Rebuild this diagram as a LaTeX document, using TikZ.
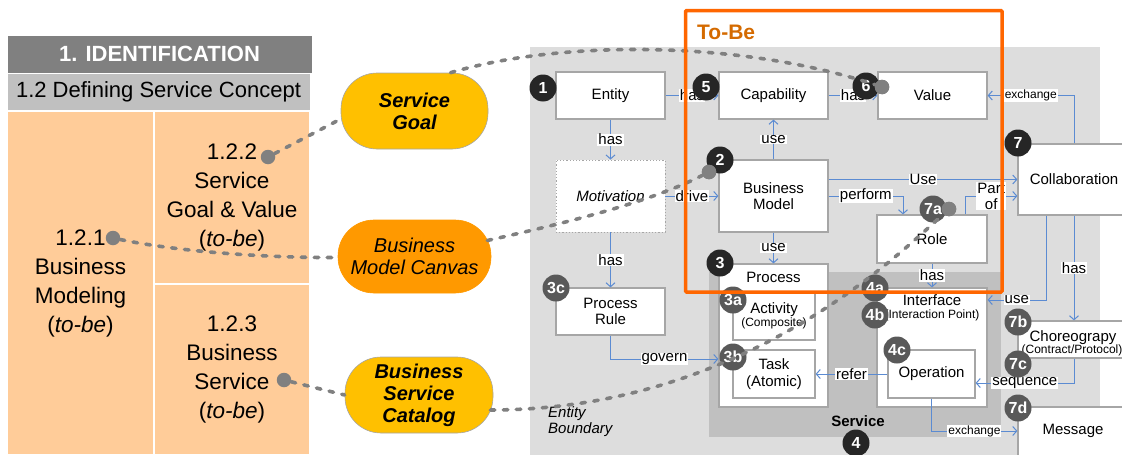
\documentclass[tikz,border=0pt]{standalone}
\usepackage{fontspec}
\setmainfont{Liberation Sans}
\usetikzlibrary{arrows.meta}

\definecolor{hdrgray}{HTML}{808080}
\definecolor{subgray}{HTML}{C0C0C0}
\definecolor{peach}{HTML}{FFCC99}
\definecolor{bggray}{HTML}{DDDDDD}
\definecolor{svcgray}{HTML}{C0C0C0}
\definecolor{boxline}{HTML}{A6A6A6}
\definecolor{linkblue}{HTML}{5B8BD2}
\definecolor{dashgray}{HTML}{808080}
\definecolor{badgedark}{HTML}{262626}
\definecolor{badgemid}{HTML}{595959}
\definecolor{goalyellow}{HTML}{FFC000}
\definecolor{canvasorange}{HTML}{FF9900}
\definecolor{tobeorange}{HTML}{FF6600}
\definecolor{tobetext}{HTML}{D46A00}

\newcommand{\fsize}[2]{\fontsize{#1}{#2}\selectfont}

\begin{document}
\begin{tikzpicture}[x=1pt, y=-1pt,
    cell/.style={fill=peach, draw=white, line width=1.5pt, align=center, inner sep=0pt, font=\fsize{22.5}{29}},
    goal/.style={rectangle, rounded corners=36pt, draw=gray!70, line width=0.6pt, inner sep=0pt, align=center},
    box/.style={draw=boxline, line width=1.2pt, fill=white, inner sep=0pt, align=center, font=\fsize{15}{16.5}},
    txt/.style={inner sep=0pt, align=center, font=\fsize{15}{16.5}},
    link/.style={draw=linkblue, line width=1pt, -{Straight Barb[length=4pt,width=9pt]}},
    lbl/.style={fill=white, inner xsep=1pt, inner ysep=0.5pt, font=\fsize{15}{16}},
    smlbl/.style={lbl, font=\fsize{12}{13}},
    badge/.style={circle, fill=badgedark, text=white, minimum size=27pt, inner sep=0pt, font=\bfseries\fsize{16}{16}},
    subbadge/.style={badge, fill=badgemid},
    gdot/.style={circle, fill=dashgray, minimum size=14.5pt, inner sep=0pt},
    trace/.style={draw=dashgray, line width=3.6pt, line cap=round, dash pattern=on 4.5pt off 8.5pt}]
  \useasboundingbox (0,0) rectangle (1122,455);

  % left panel: identification table
  \node[fill=hdrgray, draw=white, line width=1pt, text=white, minimum width=305, minimum height=38,
        inner sep=0pt, font=\bfseries\fsize{22}{22}] (ident) at (159.5,54) {1. IDENTIFICATION};
  \node[fill=subgray, draw=white, line width=1pt, minimum width=303, minimum height=38,
        inner sep=0pt, font=\fsize{22}{22}] (concept) at (158.5,92) {1.2 Defining Service Concept};
  \node[cell, minimum width=147, minimum height=344] (c121) at (80.5,283) {1.2.1\\Business\\Modeling\\(\textit{to-be})};
  \node[cell, minimum width=156, minimum height=173] (c122) at (232,197.5) {1.2.2\\Service\\Goal \& Value\\(\textit{to-be})};
  \node[cell, minimum width=156, minimum height=171] (c123) at (232,369.5) {1.2.3\\Business\\Service\\(\textit{to-be})};
  \node[gdot] (d121) at (113,238) {};
  \node[gdot] (d122) at (268,157) {};
  \node[gdot] (d123) at (284,380) {};

  % artefacts
  \node[goal, fill=goalyellow, minimum width=147, minimum height=76,
        font=\bfseries\itshape\fsize{20}{22}] (sgoal) at (414.5,111) {Service\\Goal};
  \node[goal, fill=canvasorange, draw=canvasorange, minimum width=153, minimum height=73,
        font=\itshape\fsize{20}{22}] (bmc) at (414.5,256.5) {Business\\Model Canvas};
  \node[goal, fill=goalyellow, minimum width=148, minimum height=76,
        font=\bfseries\itshape\fsize{20}{22}] (bsc) at (419,395) {Business\\Service\\Catalog};

  % model areas
  \fill[bggray] (530,47) rectangle (1100,455);
  \fill[svcgray] (709,272) rectangle (1001,437);

  % concepts
  \node[box, minimum width=109, minimum height=47] (entity) at (610.5,95.5) {Entity};
  \node[box, minimum width=109, minimum height=47] (capab) at (773.5,95.5) {Capability};
  \node[box, minimum width=109, minimum height=47] (value) at (932.5,95.5) {Value};
  \node[box, dotted, line width=0.8pt, minimum width=109, minimum height=72,
        font=\itshape\fsize{15}{16.5}] (motiv) at (610.5,196) {Motivation};
  \node[box, minimum width=109, minimum height=72] (bmodel) at (773.5,196) {Business\\Model};
  \node[box, minimum width=110, minimum height=48] (role) at (932,239) {Role};
  \node[box, minimum width=112, minimum height=71] (collab) at (1074,179.5) {Collaboration};
  \node[box, minimum width=109, minimum height=47] (prule) at (610.5,311.5) {Process\\Rule};
  \node[box, minimum width=109, minimum height=143] (proc) at (773.5,335.5) {};
  \node[txt] (proct) at (773.5,277) {Process};
  \node[box, minimum width=82, minimum height=48] (activ) at (774,316) {Activity\\[-3.5pt]{\fsize{12}{12}(Composite)}};
  \node[box, minimum width=82, minimum height=48] (task) at (774,374) {Task\\(Atomic)};
  \node[box, minimum width=110, minimum height=119] (iface) at (932,347.5) {};
  \node[txt] (ifacet) at (932,300) {Interface};
  \node[txt, font=\fsize{12}{12}] (ifaces) at (932,315.5) {(Interaction Point)};
  \node[box, minimum width=87, minimum height=48] (oper) at (931.5,374) {Operation};
  \node[box, minimum width=112, minimum height=37] (choreo) at (1074,339.5) {};
  \node[txt] (choreot) at (1073,338) {Choreograpy};
  \node[txt, font=\fsize{12}{12}] (choreos) at (1072,350.5) {(Contract/Protocol)};
  \node[box, minimum width=112, minimum height=55] (msg) at (1074,434.5) {};
  \node[txt] (msgt) at (1073,431) {Message};
  \node[txt, anchor=west, align=left, font=\itshape\fsize{15}{16}] (bound) at (548,422) {Entity\\Boundary};
  \node[txt, font=\bfseries\fsize{15}{15}] (svc) at (858,421) {Service};

  % relations
  \draw[link] (entity) -- node[lbl]{has} (capab);
  \draw[link] (capab) -- node[lbl]{has} (value);
  \draw[link] (entity) -- node[lbl]{has} (motiv);
  \draw[link] (motiv) -- node[lbl]{drive} (bmodel);
  \draw[link] (bmodel) -- node[lbl]{use} (capab);
  \draw[link] (bmodel) -- node[lbl]{use} (proc);
  \draw[link] (motiv) -- node[lbl]{has} (prule);
  \draw[link] (bmodel.east |- collab.west) -- node[lbl]{Use} (collab.west);
  \draw[link] (bmodel.east) -| node[lbl, pos=0.25]{perform} ([xshift=-29pt]role.north);
  \draw[link] ([xshift=33pt]role.north) |- node[lbl, pos=0.75, align=center]{Part\\of} ([yshift=-16.5pt]collab.west);
  \draw[link] (role) -- node[lbl]{has} (iface);
  \draw[link] (collab.north) |- node[smlbl, pos=0.75]{exchange} (value.east);
  \draw[link] ([xshift=-28pt]collab.south) |- node[lbl, pos=0.75]{use} ([yshift=47.5pt]iface.east);
  \draw[link] (collab) -- node[lbl]{has} (choreo);
  \draw[link] (choreo.south) |- node[lbl, pos=0.75]{sequence} ([yshift=-9pt]oper.east);
  \draw[link] (oper.south) |- node[smlbl, pos=0.75]{exchange} ([yshift=3.5pt]msg.west);
  \draw[link] (oper) -- node[lbl]{refer} (task);
  \draw[link] (prule.south) |- node[lbl, pos=0.75]{govern} ([yshift=15pt]task.west -| proc.west);

  % numbering
  \node[badge] (b1) at (543,88) {1};
  \node[badge] (b5) at (706,87) {5};
  \node[badge] (b6) at (866,86) {6};
  \node[badge] (b2) at (720,160) {2};
  \node[badge] (b3) at (720,263) {3};
  \node[badge] (b4) at (856,443) {4};
  \node[badge] (b7) at (1018,143) {7};
  \node[subbadge] (b3a) at (733,300) {3a};
  \node[subbadge] (b3b) at (733,357) {3b};
  \node[subbadge] (b3c) at (556,288) {3c};
  \node[subbadge] (b4a) at (875,288) {4a};
  \node[subbadge] (b4b) at (875,315) {4b};
  \node[subbadge] (b4c) at (897,350) {4c};
  \node[subbadge] (b7a) at (933,209) {7a};
  \node[subbadge] (b7b) at (1018,322) {7b};
  \node[subbadge] (b7c) at (1018,364) {7c};
  \node[subbadge] (b7d) at (1018,408) {7d};

  % traces between table, artefacts and model
  \node[gdot] (d6) at (882,87) {};
  \node[gdot] (d2) at (709,172) {};
  \node[gdot] (d7a) at (949,209) {};
  \draw[trace] (d122) -- ([yshift=-8pt]sgoal.west);
  \draw[trace] ([xshift=36pt]sgoal.north) .. controls (560,40) and (740,40) .. (d6);
  \draw[trace] (d121) .. controls (180,252) and (270,258) .. ([yshift=-1pt]bmc.west);
  \draw[trace] ([xshift=-4pt,yshift=16pt]bmc.east) .. controls (570,222) and (650,202) .. (d2);
  \draw[trace] (d123) -- (bsc.west);
  \draw[trace] ([xshift=-3pt,yshift=-15pt]bsc.east) .. controls (740,410) and (895,258) .. (d7a);
  \node[gdot] at (d6) {};
  \node[gdot] at (d2) {};
  \node[gdot] at (d7a) {};

  % to-be scope
  \draw[tobeorange, line width=3.5pt, rounded corners=1pt] (685.5,10.5) rectangle (1002,292);
  \node[anchor=west, inner sep=0pt, text=tobetext, font=\bfseries\fsize{21}{21}] (tobe) at (697,32) {To-Be};
\end{tikzpicture}
\end{document}
